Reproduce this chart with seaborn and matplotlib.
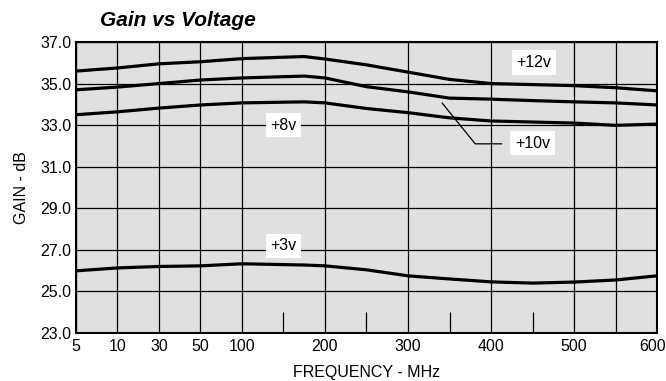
import numpy as np
import pandas as pd
import matplotlib
matplotlib.use('Agg')
import matplotlib.pyplot as plt
import matplotlib.transforms as mtrans
import seaborn as sb

# Frequency (MHz) sample points
freq = [5, 10, 30, 50, 100, 175, 200, 250, 300, 350, 400, 450, 500, 550, 600]

# Gain (dB) for each supply voltage
gain_12v = [35.6, 35.75, 35.95, 36.05, 36.2, 36.3, 36.18, 35.9, 35.55, 35.2, 35.0, 34.95, 34.9, 34.8, 34.65]
gain_10v = [34.7, 34.83, 35.0, 35.17, 35.27, 35.36, 35.27, 34.85, 34.6, 34.3, 34.25, 34.18, 34.12, 34.07, 33.97]
gain_8v = [33.5, 33.64, 33.82, 33.97, 34.07, 34.12, 34.07, 33.8, 33.6, 33.35, 33.2, 33.15, 33.1, 32.99, 33.05]
gain_3v = [25.99, 26.13, 26.2, 26.23, 26.33, 26.27, 26.23, 26.04, 25.75, 25.6, 25.46, 25.4, 25.45, 25.55, 25.75]

x_ticks = [5, 10, 30, 50, 100, 200, 300, 400, 500, 550, 600]
x_labels = ['5', '10', '30', '50', '100', '200', '300', '400', '500', '', '600']
x_minor = [150, 250, 350, 450]
y_ticks = [23, 25, 27, 29, 31, 33, 35, 37]

# the chart's x axis is stretched unevenly: 5..100 evenly spaced, then linear
scale_freq = [5, 10, 30, 50, 100, 600]
scale_pos = [0, 1, 2, 3, 4, 14]


def forward(f):
    return np.interp(f, scale_freq, scale_pos)


def inverse(p):
    return np.interp(p, scale_pos, scale_freq)


data = pd.DataFrame({
    'freq': freq * 4,
    'gain': gain_12v + gain_10v + gain_8v + gain_3v,
    'volt': ['+12v'] * 15 + ['+10v'] * 15 + ['+8v'] * 15 + ['+3v'] * 15,
})

sb.set_style('white')
plt.rcParams['font.family'] = ['Liberation Sans', 'DejaVu Sans']
plt.rcParams['text.color'] = 'black'
plt.rcParams['axes.labelcolor'] = 'black'
plt.rcParams['xtick.color'] = 'black'
plt.rcParams['ytick.color'] = 'black'

fig = plt.figure(figsize=(6.66, 3.81), dpi=100)
ax = fig.add_axes([0.1141, 0.126, 0.8724, 0.7638])
ax.set_facecolor('#e0e0e0')
ax.set_xscale('function', functions=(forward, inverse))

sb.lineplot(data=data, x='freq', y='gain', units='volt', estimator=None,
            color='black', linewidth=2.3, ax=ax, zorder=3)

ax.set_xlim(5, 600)
ax.set_ylim(23, 37)
ax.set_xticks(x_ticks)
ax.set_xticklabels(x_labels)
ax.set_xticks(x_minor, minor=True)
ax.set_yticks(y_ticks)
ax.set_yticklabels(['%.1f' % v for v in y_ticks])
ax.grid(True, which='major', color='black', linewidth=0.9)
ax.tick_params(which='major', length=0, labelsize=11.5)
ax.tick_params(axis='x', which='major', pad=4)
ax.tick_params(axis='y', which='major', pad=3.5)
ax.tick_params(axis='x', which='minor', direction='in', length=15, width=0.9,
               color='black', bottom=True)
for s in ax.spines.values():
    s.set_color('black')
    s.set_linewidth(1.5)

# nudge the last label so it stays inside the picture
last = ax.get_xticklabels()[-1]
last.set_transform(last.get_transform() + mtrans.ScaledTranslation(-4 / 100, 0, fig.dpi_scale_trans))

ax.set_xlabel('FREQUENCY - MHz', fontsize=11.5, labelpad=8)
ax.set_ylabel('GAIN - dB', fontsize=11.5, labelpad=8)

box = dict(facecolor='white', edgecolor='none', pad=3.5)
ax.text(452, 36.0, '+12v', ha='center', va='center', fontsize=11.5, bbox=box, zorder=5)
ax.text(450, 32.14, '+10v', ha='center', va='center', fontsize=11.5, bbox=box, zorder=5)
ax.text(150, 33.0, '+8v', ha='center', va='center', fontsize=11.5, bbox=box, zorder=5)
ax.text(150, 27.19, '+3v', ha='center', va='center', fontsize=11.5, bbox=box, zorder=5)

# leader line for the +10v label
ax.plot([341, 381, 413], [34.07, 32.1, 32.1], color='black', linewidth=0.9, zorder=4)

fig.text(100 / 666, 1 - 21 / 381, 'Gain vs Voltage', fontsize=15,
         fontweight='bold', fontstyle='italic', ha='left', va='center')

fig.savefig('out.png', dpi=100)
